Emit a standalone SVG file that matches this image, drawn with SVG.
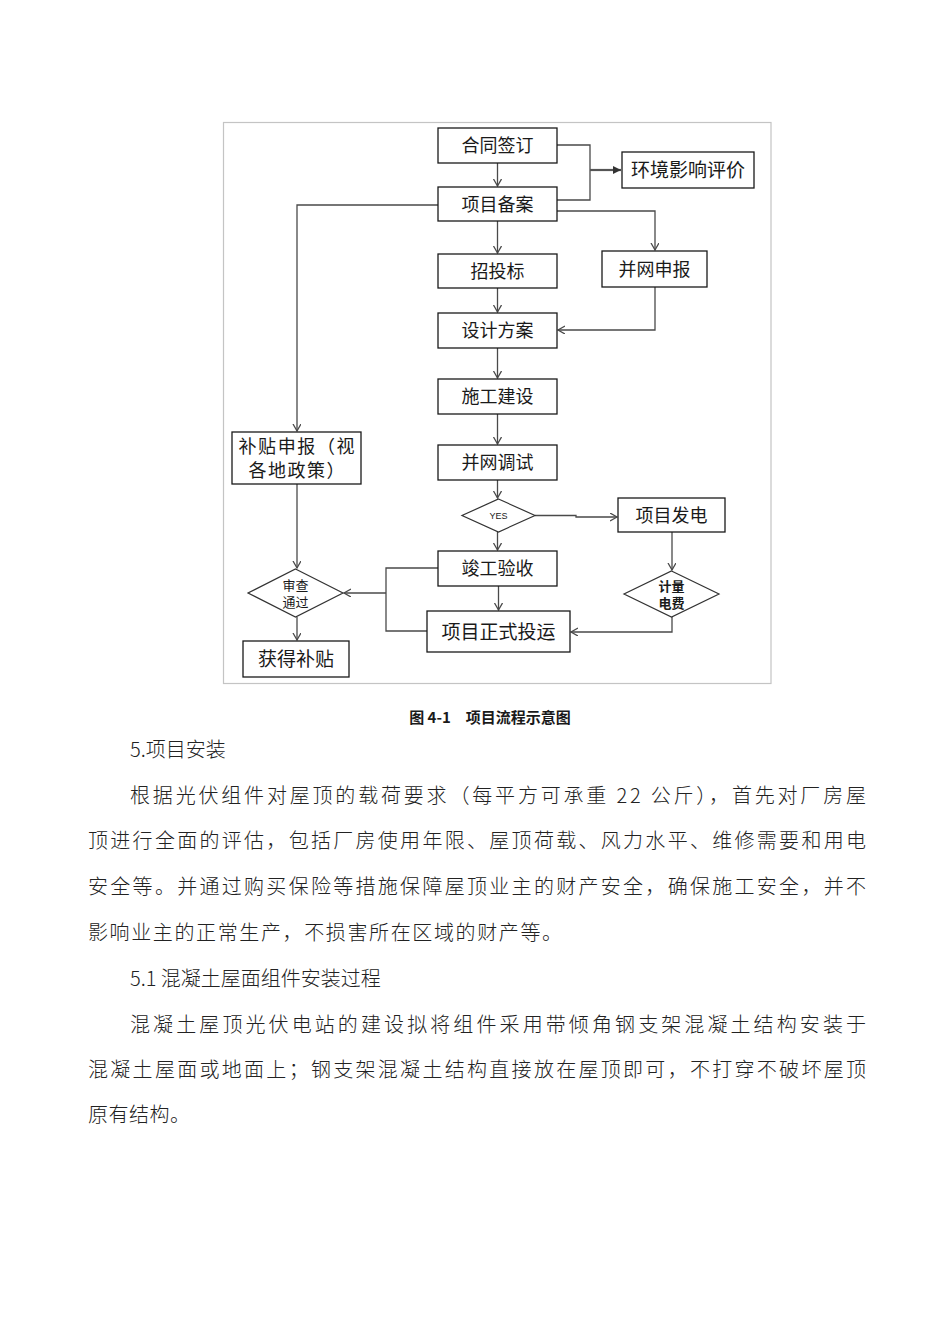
<svg xmlns="http://www.w3.org/2000/svg" width="950" height="1344" viewBox="0 0 950 1344">
<style>
.bg{fill:#ffffff}
.frame{fill:#ffffff;stroke:#c4c4c4;stroke-width:1.2}
.box{fill:#ffffff;stroke:#1a1a1a;stroke-width:1.3}
.dia{fill:#ffffff;stroke:#333333;stroke-width:1.2}
.lbl{font-family:"Noto Sans CJK SC","Liberation Sans",sans-serif;font-size:18px;fill:#1a1a1a;text-anchor:middle}
.big{font-size:19px}
.small{font-family:"Noto Sans CJK SC","Liberation Sans",sans-serif;font-size:13px;fill:#1a1a1a;text-anchor:middle}
.yes{font-family:"Liberation Sans","Noto Sans",sans-serif;font-size:9px;fill:#1a1a1a;text-anchor:middle}
.con{fill:none;stroke:#4a4a4a;stroke-width:1.3}
.thick{fill:none;stroke:#555555;stroke-width:2.2}
.cap{font-family:"Noto Sans CJK SC","Liberation Sans",sans-serif;font-size:15px;font-weight:bold;fill:#1a1a1a;text-anchor:middle}
.body{font-family:"Noto Sans CJK SC","Liberation Serif",sans-serif;font-size:20px;fill:#222222;font-weight:300}
</style>
<defs>
<marker id="arr" markerWidth="10" markerHeight="10" refX="7" refY="4" orient="auto" markerUnits="userSpaceOnUse">
<path d="M0,0 L7,4 L0,8" fill="none" stroke="#4a4a4a" stroke-width="1.3"/>
</marker>
<marker id="arrT" markerWidth="10" markerHeight="10" refX="8" refY="4" orient="auto" markerUnits="userSpaceOnUse">
<path d="M0,0 L8,4 L0,8 Z" fill="#333333"/>
</marker>
</defs>
<rect class="bg" x="0" y="0" width="950" height="1344"/>
<rect class="frame" x="223.5" y="122.5" width="547.5" height="561"/>

<g id="connectors">
<line class="con" x1="497.5" y1="163" x2="497.5" y2="186" marker-end="url(#arr)"/>
<polyline class="con" points="557,145 590,145 590,200 557,200"/>
<line class="thick" x1="590" y1="170" x2="621" y2="170" marker-end="url(#arrT)"/>
<polyline class="con" points="438,205 297,205 297,431" marker-end="url(#arr)"/>
<polyline class="con" points="557,211 655,211 655,250" marker-end="url(#arr)"/>
<line class="con" x1="497.5" y1="221" x2="497.5" y2="253" marker-end="url(#arr)"/>
<line class="con" x1="497.5" y1="288" x2="497.5" y2="312" marker-end="url(#arr)"/>
<polyline class="con" points="655,287 655,330 558,330" marker-end="url(#arr)"/>
<line class="con" x1="497.5" y1="348" x2="497.5" y2="378" marker-end="url(#arr)"/>
<line class="con" x1="497.5" y1="414" x2="497.5" y2="444" marker-end="url(#arr)"/>
<line class="con" x1="497.5" y1="480" x2="497.5" y2="498" marker-end="url(#arr)"/>
<line class="con" x1="497.5" y1="532" x2="497.5" y2="550" marker-end="url(#arr)"/>
<polyline class="con" points="535,515.5 576,515.5 576,517 617,517" marker-end="url(#arr)"/>
<line class="con" x1="672" y1="532" x2="672" y2="570" marker-end="url(#arr)"/>
<polyline class="con" points="672,617 672,632 571,632" marker-end="url(#arr)"/>
<line class="con" x1="498.5" y1="586" x2="498.5" y2="610" marker-end="url(#arr)"/>
<polyline class="con" points="438,568 386,568 386,631 427,631"/>
<line class="con" x1="386" y1="593" x2="344" y2="593" marker-end="url(#arr)"/>
<line class="con" x1="297" y1="484" x2="297" y2="568" marker-end="url(#arr)"/>
<line class="con" x1="297" y1="617" x2="297" y2="640" marker-end="url(#arr)"/>
</g>

<g id="n1"><rect class="box" x="438" y="128" width="119" height="35"/><text class="lbl" x="497.5" y="152">合同签订</text></g>
<g id="n2"><rect class="box" x="622" y="152" width="132" height="36"/><text class="lbl big" x="688" y="177">环境影响评价</text></g>
<g id="n3"><rect class="box" x="438" y="187" width="119" height="34"/><text class="lbl" x="497.5" y="210.5">项目备案</text></g>
<g id="n4"><rect class="box" x="438" y="254" width="119" height="34"/><text class="lbl" x="497.5" y="277.5">招投标</text></g>
<g id="n5"><rect class="box" x="602" y="251" width="105" height="36"/><text class="lbl" x="654.5" y="275.5">并网申报</text></g>
<g id="n6"><rect class="box" x="438" y="313" width="119" height="35"/><text class="lbl" x="497.5" y="337">设计方案</text></g>
<g id="n7"><rect class="box" x="438" y="379" width="119" height="35"/><text class="lbl" x="497.5" y="403">施工建设</text></g>
<g id="n8"><rect class="box" x="438" y="445" width="119" height="35"/><text class="lbl" x="497.5" y="469">并网调试</text></g>
<g id="n9"><polygon class="dia" points="498.5,499 535,515.5 498.5,532 462,515.5"/><text class="yes" x="498.5" y="519">YES</text></g>
<g id="n10"><rect class="box" x="618" y="498" width="107" height="34"/><text class="lbl" x="671.5" y="521.5">项目发电</text></g>
<g id="n11"><rect class="box" x="438" y="551" width="119" height="35"/><text class="lbl" x="497.5" y="575">竣工验收</text></g>
<g id="n12"><polygon class="dia" points="671.5,571 719,594 671.5,617 624,594"/><text class="small" x="671.5" y="591" font-weight="bold">计量</text><text class="small" x="671.5" y="608" font-weight="bold">电费</text></g>
<g id="n13"><rect class="box" x="427" y="611" width="143" height="41"/><text class="lbl big" x="498.5" y="638.5">项目正式投运</text></g>
<g id="n14"><rect class="box" x="232" y="432" width="129" height="52"/><text class="lbl" x="296.5" y="453" textLength="116" lengthAdjust="spacing">补贴申报（视</text><text class="lbl" x="296.5" y="477" textLength="96" lengthAdjust="spacing">各地政策）</text></g>
<g id="n15"><polygon class="dia" points="295.5,569 343,593 295.5,617 248,593"/><text class="small" x="295.5" y="590">审查</text><text class="small" x="295.5" y="607">通过</text></g>
<g id="n16"><rect class="box" x="243" y="641" width="106" height="36"/><text class="lbl big" x="296" y="666">获得补贴</text></g>

<text class="cap" x="490" y="723">图 4-1　项目流程示意图</text>

<g id="body">
<text class="body" x="130" y="756.5">5.项目安装</text>
<text class="body" x="130" y="802.5" textLength="736" lengthAdjust="spacing">根据光伏组件对屋顶的载荷要求（每平方可承重 22 公斤），首先对厂房屋</text>
<text class="body" x="88" y="847.5" textLength="778" lengthAdjust="spacing">顶进行全面的评估，包括厂房使用年限、屋顶荷载、风力水平、维修需要和用电</text>
<text class="body" x="88" y="893.5" textLength="778" lengthAdjust="spacing">安全等。并通过购买保险等措施保障屋顶业主的财产安全，确保施工安全，并不</text>
<text class="body" x="88" y="939.5" textLength="474" lengthAdjust="spacing">影响业主的正常生产，不损害所在区域的财产等。</text>
<text class="body" x="130" y="985.5">5.1 混凝土屋面组件安装过程</text>
<text class="body" x="130" y="1031.5" textLength="736" lengthAdjust="spacing">混凝土屋顶光伏电站的建设拟将组件采用带倾角钢支架混凝土结构安装于</text>
<text class="body" x="88" y="1076.5" textLength="778" lengthAdjust="spacing">混凝土屋面或地面上；钢支架混凝土结构直接放在屋顶即可，不打穿不破坏屋顶</text>
<text class="body" x="88" y="1121.5" textLength="102" lengthAdjust="spacing">原有结构。</text>
</g>
</svg>
